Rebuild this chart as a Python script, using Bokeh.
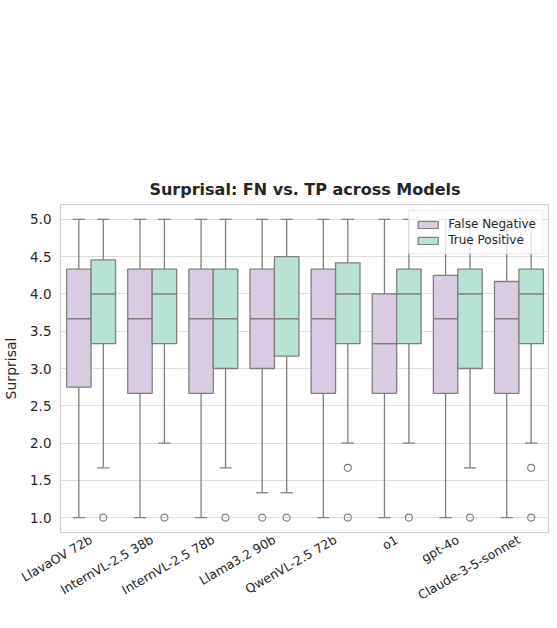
import math
from bokeh.plotting import figure
from bokeh.models import ColumnDataSource, FactorRange, Range1d, FixedTicker, NumeralTickFormatter
from bokeh.transform import dodge
from bokeh.embed import file_html
from bokeh.resources import INLINE

models = ["LlavaOV 72b", "InternVL-2.5 38b", "InternVL-2.5 78b", "Llama3.2 90b",
          "QwenVL-2.5 72b", "o1", "gpt-4o", "Claude-3-5-sonnet"]

# False Negative box statistics
fn_lo  = [1.0, 1.0, 1.0, 1.333, 1.0, 1.0, 1.0, 1.0]
fn_q1  = [2.75, 2.667, 2.667, 3.0, 2.667, 2.667, 2.667, 2.667]
fn_med = [3.667, 3.667, 3.667, 3.667, 3.667, 3.333, 3.667, 3.667]
fn_q3  = [4.333, 4.333, 4.333, 4.333, 4.333, 4.0, 4.25, 4.167]
fn_hi  = [5.0, 5.0, 5.0, 5.0, 5.0, 5.0, 5.0, 5.0]

# True Positive box statistics
tp_lo  = [1.667, 2.0, 1.667, 1.333, 2.0, 2.0, 1.667, 2.0]
tp_q1  = [3.333, 3.333, 3.0, 3.167, 3.333, 3.333, 3.0, 3.333]
tp_med = [4.0, 4.0, 3.667, 3.667, 4.0, 4.0, 4.0, 4.0]
tp_q3  = [4.458, 4.333, 4.333, 4.5, 4.417, 4.333, 4.333, 4.333]
tp_hi  = [5.0, 5.0, 5.0, 5.0, 5.0, 5.0, 5.0, 5.0]

# outliers
fn_out_model = ["Llama3.2 90b"]
fn_out_value = [1.0]
tp_out_model = ["LlavaOV 72b", "InternVL-2.5 38b", "InternVL-2.5 78b", "Llama3.2 90b",
                "QwenVL-2.5 72b", "QwenVL-2.5 72b", "o1", "gpt-4o",
                "Claude-3-5-sonnet", "Claude-3-5-sonnet"]
tp_out_value = [1.0, 1.0, 1.0, 1.0, 1.667, 1.0, 1.0, 1.0, 1.667, 1.0]

y_ticks = [1.0, 1.5, 2.0, 2.5, 3.0, 3.5, 4.0, 4.5, 5.0]

FN_COLOR = "#d9cbe1"
TP_COLOR = "#b8e2d3"
EDGE = "#7f7f7f"
TXT = "#262626"

p = figure(x_range=FactorRange(*models, range_padding=0), y_range=Range1d(0.8, 5.2),
           width=549, height=612, output_backend="svg", toolbar_location=None,
           min_border_left=55, min_border_right=0, min_border_top=204, min_border_bottom=0,
           title="Surprisal: FN vs. TP across Models")

p.background_fill_color = "white"
p.outline_line_color = "#cccccc"
p.outline_line_width = 1.2
p.xgrid.grid_line_color = None
p.ygrid.grid_line_color = "#dedede"
p.ygrid.grid_line_width = 1.2
p.ygrid.ticker = FixedTicker(ticks=y_ticks)

p.title.align = "center"
p.title.text_font = "DejaVu Sans"
p.title.text_font_size = "16px"
p.title.text_font_style = "bold"
p.title.text_color = TXT
p.title.standoff = 12

for ax in (p.xaxis[0], p.yaxis[0]):
    ax.axis_line_color = None
    ax.major_tick_line_color = None
    ax.minor_tick_line_color = None
    ax.major_tick_in = 0
    ax.major_tick_out = 0
    ax.minor_tick_in = 0
    ax.minor_tick_out = 0
    ax.major_label_text_font = "DejaVu Sans"
    ax.major_label_text_color = TXT

p.yaxis.ticker = FixedTicker(ticks=y_ticks)
p.yaxis.formatter = NumeralTickFormatter(format="0.0")
p.yaxis.major_label_text_font_size = "13.5px"
p.yaxis.major_label_standoff = 9
p.yaxis.axis_label = "Surprisal"
p.yaxis.axis_label_text_font = "DejaVu Sans"
p.yaxis.axis_label_text_font_size = "14px"
p.yaxis.axis_label_text_font_style = "normal"
p.yaxis.axis_label_text_color = TXT
p.yaxis.axis_label_standoff = 8

p.xaxis.major_label_orientation = math.pi / 6
p.xaxis.major_label_text_font_size = "12.5px"
p.xaxis.major_label_standoff = 6


def draw(series_lo, q1, med, q3, hi, off, color, label):
    src = ColumnDataSource(dict(model=models, lo=series_lo, q1=q1, med=med, q3=q3, hi=hi))
    xc = dodge("model", off, range=p.x_range)
    p.segment(x0=xc, x1=xc, y0="q3", y1="hi", source=src, line_color=EDGE, line_width=1.3)
    p.segment(x0=xc, x1=xc, y0="q1", y1="lo", source=src, line_color=EDGE, line_width=1.3)
    p.segment(x0=dodge("model", off - 0.1, range=p.x_range), x1=dodge("model", off + 0.1, range=p.x_range),
              y0="hi", y1="hi", source=src, line_color=EDGE, line_width=1.3)
    p.segment(x0=dodge("model", off - 0.1, range=p.x_range), x1=dodge("model", off + 0.1, range=p.x_range),
              y0="lo", y1="lo", source=src, line_color=EDGE, line_width=1.3)
    p.vbar(x=xc, top="q3", bottom="q1", width=0.4, source=src, fill_color=color,
           line_color=EDGE, line_width=1.3, legend_label=label)
    p.segment(x0=dodge("model", off - 0.2, range=p.x_range), x1=dodge("model", off + 0.2, range=p.x_range),
              y0="med", y1="med", source=src, line_color=EDGE, line_width=1.5)


draw(fn_lo, fn_q1, fn_med, fn_q3, fn_hi, -0.2, FN_COLOR, "False Negative")
draw(tp_lo, tp_q1, tp_med, tp_q3, tp_hi, 0.2, TP_COLOR, "True Positive")

fn_out = ColumnDataSource(dict(model=fn_out_model, v=fn_out_value))
tp_out = ColumnDataSource(dict(model=tp_out_model, v=tp_out_value))
p.scatter(x=dodge("model", -0.2, range=p.x_range), y="v", source=fn_out, marker="circle",
          size=7, fill_color=None, line_color=EDGE, line_width=1.1)
p.scatter(x=dodge("model", 0.2, range=p.x_range), y="v", source=tp_out, marker="circle",
          size=7, fill_color=None, line_color=EDGE, line_width=1.1)

lg = p.legend[0]
lg.location = "top_right"
lg.margin = 6
lg.padding = 6
lg.spacing = 2
lg.border_line_color = "#d8d8d8"
lg.background_fill_alpha = 0.8
lg.label_text_font = "DejaVu Sans"
lg.label_text_font_size = "12px"
lg.label_text_color = TXT
lg.label_height = 14
lg.glyph_height = 9
lg.glyph_width = 25
lg.label_standoff = 8

open("out.html", "w").write(file_html(p, INLINE))
